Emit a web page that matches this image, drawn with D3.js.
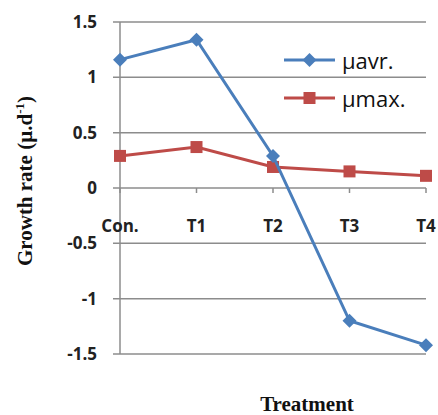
<!DOCTYPE html>
<html>
<head>
<meta charset="utf-8">
<script src="https://cdn.jsdelivr.net/npm/d3@7"></script>
<style>
  body { margin: 0; background: #fff; }
</style>
</head>
<body>
<div id="chart"></div>
<script>
// data
var categories = ['Con.', 'T1', 'T2', 'T3', 'T4'];
var avrValues = [1.16, 1.34, 0.29, -1.20, -1.42];
var maxValues = [0.29, 0.37, 0.19, 0.15, 0.11];
var yTicks = [-1.5, -1, -0.5, 0, 0.5, 1, 1.5];
var seriesNames = ['µavr.', 'µmax.'];

var svg_width = 438,
  svg_height = 415;

var svg = d3.select('#chart')
  .append('svg')
  .attr('width', svg_width)
  .attr('height', svg_height);

var x = d3.scalePoint()
  .domain(categories)
  .range([120, 426]);

var y = d3.scaleLinear()
  .domain([-1.5, 1.5])
  .range([354, 22]);

var gridColor = '#8c8c8c';
var labelStyle = 'font: bold 17px "Open Sans", sans-serif; fill: #222';

// horizontal gridlines
svg.append('g')
  .selectAll('line')
  .data(yTicks)
  .enter().append('line')
  .attr('x1', 113)
  .attr('x2', 426)
  .attr('y1', function (d) { return y(d); })
  .attr('y2', function (d) { return y(d); })
  .attr('stroke', gridColor)
  .attr('stroke-width', 1.5);

// y axis line
svg.append('line')
  .attr('x1', x('Con.'))
  .attr('x2', x('Con.'))
  .attr('y1', y(1.5))
  .attr('y2', y(-1.5))
  .attr('stroke', gridColor)
  .attr('stroke-width', 1.5);

// category ticks on the zero line
svg.append('g')
  .selectAll('line')
  .data(categories)
  .enter().append('line')
  .attr('x1', function (d) { return x(d); })
  .attr('x2', function (d) { return x(d); })
  .attr('y1', y(0))
  .attr('y2', y(0) + 5)
  .attr('stroke', gridColor)
  .attr('stroke-width', 1.5);

// y tick labels
svg.append('g')
  .selectAll('text')
  .data(yTicks)
  .enter().append('text')
  .attr('x', 97)
  .attr('y', function (d) { return y(d) + 6; })
  .attr('text-anchor', 'end')
  .attr('style', labelStyle)
  .text(function (d) { return d; });

// category labels
svg.append('g')
  .selectAll('text')
  .data(categories)
  .enter().append('text')
  .attr('x', function (d) { return x(d); })
  .attr('y', 232)
  .attr('text-anchor', 'middle')
  .attr('style', labelStyle)
  .text(function (d) { return d; });

// series
var series = [
  { name: seriesNames[0], values: avrValues, color: '#4a7ebb', marker: 'diamond' },
  { name: seriesNames[1], values: maxValues, color: '#be4b48', marker: 'square' }
];

var line = d3.line()
  .x(function (d, i) { return x(categories[i]); })
  .y(function (d) { return y(d); });

function drawMarker(g, type, cx, cy, color) {
  if (type === 'diamond') {
    g.append('path')
      .attr('d', 'M' + cx + ',' + (cy - 7) + 'L' + (cx + 7) + ',' + cy + 'L' + cx + ',' + (cy + 7) + 'L' + (cx - 7) + ',' + cy + 'Z')
      .attr('fill', color);
  } else {
    g.append('rect')
      .attr('x', cx - 6)
      .attr('y', cy - 6)
      .attr('width', 12)
      .attr('height', 12)
      .attr('fill', color);
  }
}

// draw max first so avr sits on top
series.slice().reverse().forEach(function (s) {
  var g = svg.append('g');
  g.append('path')
    .datum(s.values)
    .attr('d', line)
    .attr('fill', 'none')
    .attr('stroke', s.color)
    .attr('stroke-width', 3);
  s.values.forEach(function (v, i) {
    drawMarker(g, s.marker, x(categories[i]), y(v), s.color);
  });
});

// legend
series.forEach(function (s, i) {
  var ly = 60 + i * 38;
  var g = svg.append('g');
  g.append('line')
    .attr('x1', 284)
    .attr('x2', 335)
    .attr('y1', ly)
    .attr('y2', ly)
    .attr('stroke', s.color)
    .attr('stroke-width', 3);
  drawMarker(g, s.marker, 309.5, ly, s.color);
  g.append('text')
    .attr('x', 342)
    .attr('y', ly + 9)
    .attr('style', 'font: 22px "Open Sans", sans-serif; fill: #111')
    .text(s.name);
});

// axis titles
svg.append('text')
  .attr('transform', 'translate(32,' + 181 + ') rotate(-90)')
  .attr('text-anchor', 'middle')
  .attr('style', 'font: bold 21px "Liberation Serif", "Times New Roman", serif; fill: #111')
  .text('Growth rate (µ.d')
  .append('tspan')
  .attr('dy', -8)
  .attr('font-size', 13)
  .text('-1')
  .select(function () { return this.parentNode; })
  .append('tspan')
  .attr('dy', 8)
  .text(')');

svg.append('text')
  .attr('x', 307)
  .attr('y', 411)
  .attr('text-anchor', 'middle')
  .attr('style', 'font: bold 21px "Liberation Serif", "Times New Roman", serif; fill: #111')
  .text('Treatment');
</script>
</body>
</html>
